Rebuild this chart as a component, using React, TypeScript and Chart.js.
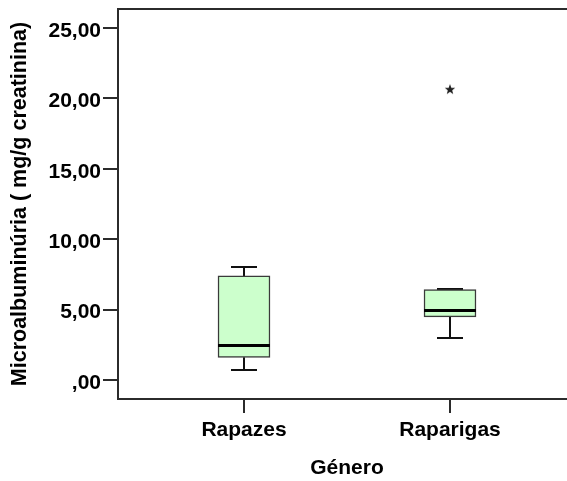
import { useEffect, useRef } from "react";
import { Chart, registerables } from "chart.js";

Chart.register(...registerables);

// Groups and their positions on the horizontal axis
const categories = ["Rapazes", "Raparigas"];
const positions = [1, 2];

// Five-number summaries per group (mg/g creatinina)
const whiskerLow = [0.71, 3.01];
const q1 = [1.61, 4.48];
const median = [2.49, 5.0];
const q3 = [7.39, 6.42];
const whiskerHigh = [8.01, 6.45];

// Extreme values (group position, value)
const extremeX = [2];
const extremeY = [20.66];

const yTicks = [0, 5, 10, 15, 20, 25];

const FONT = "'Liberation Sans', Arial, sans-serif";
const LINE = "#2b2b2b";

function formatComma(v: number): string {
  const s = v.toFixed(2).replace(".", ",");
  return s.startsWith("0,") ? s.slice(1) : s;
}

// Small filled star used as the marker for extreme values
function makeStar(): HTMLCanvasElement {
  const size = 14;
  const c = document.createElement("canvas");
  c.width = size;
  c.height = size;
  const ctx = c.getContext("2d")!;
  const cx = size / 2;
  const cy = size / 2 + 0.5;
  const R = 5.5;
  const r = 2.3;
  ctx.beginPath();
  for (let i = 0; i < 10; i++) {
    const rad = i % 2 === 0 ? R : r;
    const a = -Math.PI / 2 + (i * Math.PI) / 5;
    const px = cx + rad * Math.cos(a);
    const py = cy + rad * Math.sin(a);
    if (i === 0) ctx.moveTo(px, py);
    else ctx.lineTo(px, py);
  }
  ctx.closePath();
  ctx.fillStyle = "#222";
  ctx.fill();
  return c;
}

const BOX_WIDTH = 52;
const CAP_HALF = 13;

// Whiskers, caps and medians drawn from the summaries through the chart scales
const boxParts = {
  id: "boxParts",
  beforeDatasetsDraw(chart: any) {
    const { ctx, scales } = chart;
    const x = scales.x;
    const y = scales.y;
    ctx.save();
    ctx.strokeStyle = "#111";
    ctx.lineWidth = 2;
    positions.forEach((p, i) => {
      const cx = Math.round(x.getPixelForValue(p));
      const hi = Math.round(y.getPixelForValue(whiskerHigh[i]));
      const lo = Math.round(y.getPixelForValue(whiskerLow[i]));
      const top = y.getPixelForValue(q3[i]);
      const bot = y.getPixelForValue(q1[i]);
      ctx.beginPath();
      ctx.moveTo(cx, hi);
      ctx.lineTo(cx, top);
      ctx.moveTo(cx, bot);
      ctx.lineTo(cx, lo);
      ctx.moveTo(cx - CAP_HALF, hi);
      ctx.lineTo(cx + CAP_HALF, hi);
      ctx.moveTo(cx - CAP_HALF, lo);
      ctx.lineTo(cx + CAP_HALF, lo);
      ctx.stroke();
    });
    ctx.restore();
  },
  afterDatasetsDraw(chart: any) {
    const { ctx, scales } = chart;
    const x = scales.x;
    const y = scales.y;
    ctx.save();
    ctx.strokeStyle = "#000";
    ctx.lineWidth = 3;
    positions.forEach((p, i) => {
      const cx = x.getPixelForValue(p);
      const my = Math.round(y.getPixelForValue(median[i])) + 0.5;
      ctx.beginPath();
      ctx.moveTo(cx - BOX_WIDTH / 2, my);
      ctx.lineTo(cx + BOX_WIDTH / 2, my);
      ctx.stroke();
    });
    ctx.restore();
  },
  afterDraw(chart: any) {
    // top edge of the plot frame
    const { ctx, chartArea } = chart;
    ctx.save();
    ctx.strokeStyle = LINE;
    ctx.lineWidth = 2;
    ctx.beginPath();
    ctx.moveTo(chartArea.left, chartArea.top);
    ctx.lineTo(chartArea.right, chartArea.top);
    ctx.stroke();
    ctx.restore();
  },
};

export default function App() {
  const canvasRef = useRef<HTMLCanvasElement | null>(null);

  useEffect(() => {
    const canvas = canvasRef.current;
    if (!canvas) return;
    const star = makeStar();

    const chart = new Chart(canvas, {
      type: "bar",
      data: {
        datasets: [
          {
            type: "bar",
            data: positions.map((p, i) => ({ x: p, y: [q1[i], q3[i]] })) as any,
            backgroundColor: "#ccffcc",
            borderColor: "#3a3a3a",
            borderWidth: 1.5,
            borderSkipped: false,
            barThickness: BOX_WIDTH,
            grouped: false,
          } as any,
          {
            type: "scatter",
            data: extremeX.map((p, i) => ({ x: p, y: extremeY[i] })),
            pointStyle: star as any,
            pointRadius: 6,
            pointHoverRadius: 6,
          } as any,
        ],
      },
      options: {
        responsive: false,
        animation: false,
        events: [],
        layout: { padding: { top: 9, right: 1, left: 0, bottom: 0 } },
        plugins: { legend: { display: false }, tooltip: { enabled: false } },
        scales: {
          x: {
            type: "linear",
            offset: false,
            min: 1 - 126 / 206,
            max: 2 + 126 / 206,
            afterBuildTicks: (scale: any) => {
              scale.ticks = positions.map((v) => ({ value: v }));
            },
            afterFit: (scale: any) => {
              scale.height = 82;
              scale.paddingLeft = 0;
              scale.paddingRight = 0;
            },
            ticks: {
              autoSkip: false,
              padding: 5,
              color: "#000",
              font: { family: FONT, size: 21, weight: "bold" },
              callback: (v: any) => {
                const idx = positions.indexOf(Number(v));
                return idx >= 0 ? categories[idx] : "";
              },
            },
            grid: {
              display: true,
              offset: false,
              drawOnChartArea: false,
              drawTicks: true,
              tickLength: 14,
              color: LINE,
              lineWidth: 2,
            },
            border: { display: true, color: LINE, width: 2 },
            title: {
              display: true,
              text: "Género",
              color: "#000",
              font: { family: FONT, size: 21, weight: "bold" },
              padding: { top: 0, bottom: 0 },
            },
          },
          y: {
            type: "linear",
            min: -19 / 14.08,
            max: 25 + 19 / 14.08,
            afterBuildTicks: (scale: any) => {
              scale.ticks = yTicks.map((v) => ({ value: v }));
            },
            afterFit: (scale: any) => {
              scale.width = 118;
              scale.paddingTop = 0;
              scale.paddingBottom = 0;
            },
            ticks: {
              autoSkip: false,
              padding: 2,
              labelOffset: 3,
              color: "#000",
              font: { family: FONT, size: 21, weight: "bold" },
              callback: (v: any) => formatComma(Number(v)),
            },
            grid: {
              display: true,
              drawOnChartArea: false,
              drawTicks: true,
              tickLength: 15,
              color: LINE,
              lineWidth: 2,
            },
            border: { display: true, color: LINE, width: 2 },
            title: {
              display: true,
              text: "Microalbuminúria ( mg/g creatinina)",
              color: "#000",
              font: { family: FONT, size: 21.5, weight: "bold" },
              padding: { top: 7, bottom: 0 },
            },
          },
        },
      },
      plugins: [boxParts],
    });

    return () => chart.destroy();
  }, []);

  return (
    <div
      style={{
        position: "fixed",
        left: 0,
        top: 0,
        width: 567,
        height: 481,
        overflow: "hidden",
        background: "#fff",
      }}
    >
      <canvas
        ref={canvasRef}
        width={583}
        height={481}
        style={{ display: "block", width: 583, height: 481 }}
      />
    </div>
  );
}
